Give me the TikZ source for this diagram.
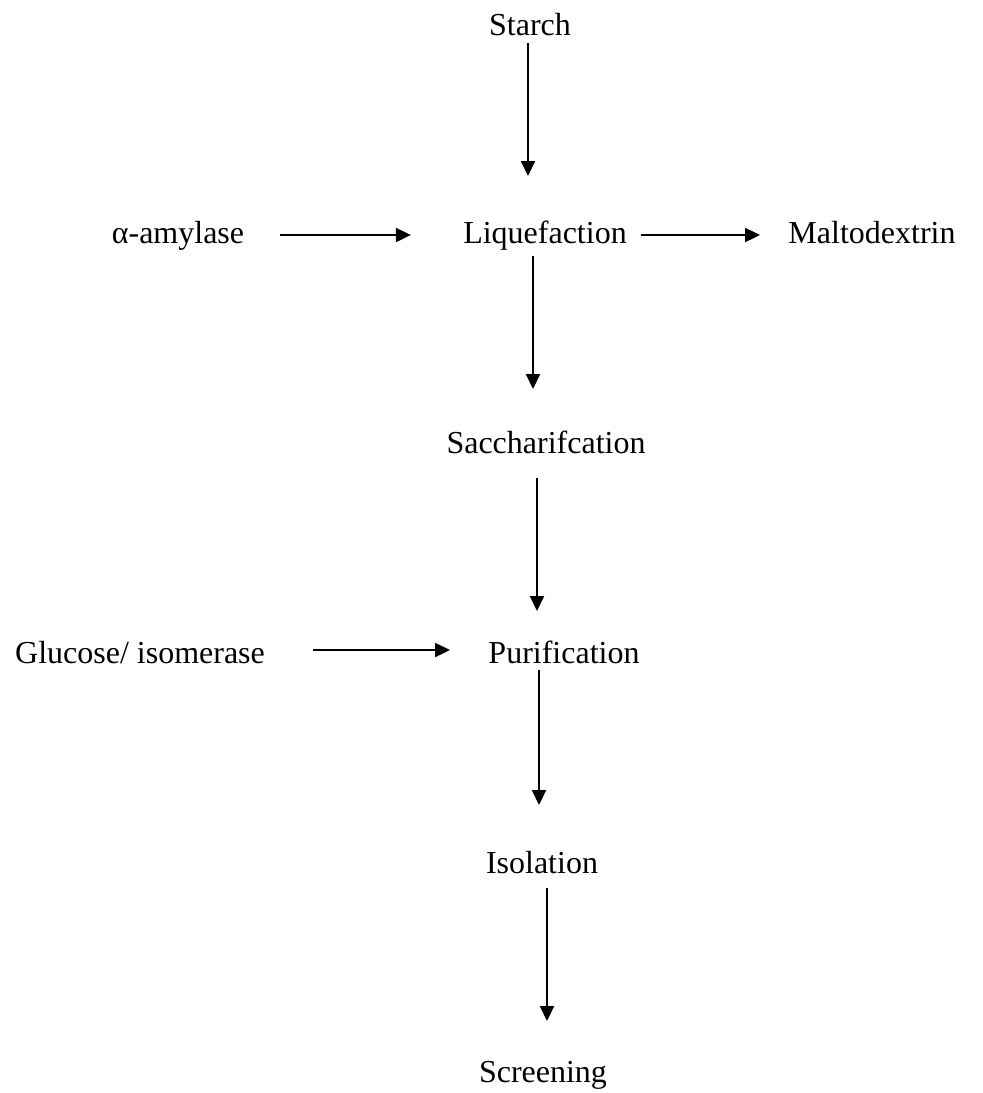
\documentclass[tikz,border=0pt]{standalone}
\usepackage{fontspec}
\setmainfont{Liberation Serif}
\usetikzlibrary{arrows.meta}
\begin{document}
\begin{tikzpicture}[x=0.5pt,y=-0.5pt,
  lbl/.style={inner sep=0pt, anchor=base, font=\fontsize{16}{19}\selectfont,
              text height=0.68em, text depth=0.22em},
  arr/.style={line width=1pt, -{Triangle[length=7.5pt,width=7pt]}}]
\useasboundingbox (0,0) rectangle (983,1093);
\node[lbl] (starch) at (530,35)  {Starch};
\node[lbl] (amy)    at (178,243) {α-amylase};
\node[lbl] (liq)    at (545,243) {Liquefaction};
\node[lbl] (malto)  at (872,243) {Maltodextrin};
\node[lbl] (sacch)  at (546,453) {Saccharifcation};
\node[lbl] (glu)    at (140,663) {Glucose/ isomerase};
\node[lbl] (pur)    at (564,663) {Purification};
\node[lbl] (iso)    at (542,873) {Isolation};
\node[lbl] (scr)    at (543,1082){Screening};
\coordinate (v1) at (528,0);
\coordinate (v2) at (533,0);
\coordinate (v3) at (537,0);
\coordinate (v4) at (539,0);
\coordinate (v5) at (547,0);
\coordinate (h1) at (0,235);
\coordinate (h3) at (0,650);
\draw[arr, shorten <=1.5pt, shorten >=26.5pt] (starch.south -| v1) -- (liq.north -| v1);
\draw[arr, shorten <=17.5pt, shorten >=26pt] (amy.east |- h1) -- (liq.west |- h1);
\draw[arr, shorten <=7pt, shorten >=14pt] (liq.east |- h1) -- (malto.west |- h1);
\draw[arr, shorten <=4pt, shorten >=25pt] (liq.south -| v2) -- (sacch.north -| v2);
\draw[arr, shorten <=10pt, shorten >=19pt] (sacch.south -| v3) -- (pur.north -| v3);
\draw[arr, shorten <=24pt, shorten >=19pt] (glu.east |- h3) -- (pur.west |- h3);
\draw[arr, shorten <=1pt, shorten >=27pt] (pur.south -| v4) -- (iso.north -| v4);
\draw[arr, shorten <=5pt, shorten >=23.5pt] (iso.south -| v5) -- (scr.north -| v5);
\end{tikzpicture}
\end{document}
